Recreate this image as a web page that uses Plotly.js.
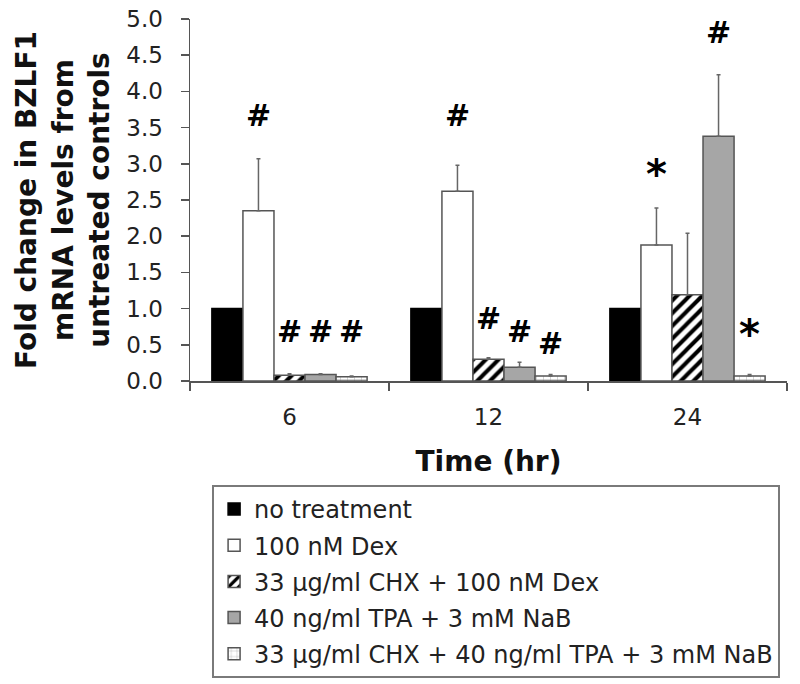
<!DOCTYPE html>
<html>
<head>
<meta charset="utf-8">
<script src="https://cdn.plot.ly/plotly-3.0.1.min.js"></script>
<style>html,body{margin:0;padding:0;background:#fff;}#chart{width:800px;height:684px;}</style>
</head>
<body>
<div id="chart"></div>
<script>
// ---- data ----
var categories = ['6', '12', '24'];
var seriesNames = [
  'no treatment',
  '100 nM Dex',
  '33 \u00b5g/ml CHX + 100 nM Dex',
  '40 ng/ml TPA + 3 mM NaB',
  '33 \u00b5g/ml CHX + 40 ng/ml TPA + 3 mM NaB'
];
var noTreatment = [1.0, 1.0, 1.0];
var dex = [2.35, 2.62, 1.88];
var chxDex = [0.08, 0.30, 1.19];
var tpaNab = [0.09, 0.19, 3.38];
var chxTpaNab = [0.06, 0.07, 0.07];

var errNoTreatment = [0, 0, 0];
var errDex = [0.72, 0.36, 0.51];
var errChxDex = [0.02, 0.02, 0.85];
var errTpaNab = [0.01, 0.07, 0.85];
var errChxTpaNab = [0.01, 0.02, 0.02];

// significance markers: [series index, category index, label, y position]
var sigSeries = [1, 2, 3, 4, 1, 2, 3, 4, 1, 3, 4];
var sigCategory = [0, 0, 0, 0, 1, 1, 1, 1, 2, 2, 2];
var sigLabels = ['#', '#', '#', '#', '#', '#', '#', '#', '*', '#', '*'];
var sigY = [3.67, 0.68, 0.68, 0.68, 3.67, 0.87, 0.68, 0.52, 2.94, 4.81, 0.73];

// ---- styling ----
var FONT = 'DejaVu Sans, Verdana, sans-serif';
var values = [noTreatment, dex, chxDex, tpaNab, chxTpaNab];
var errors = [errNoTreatment, errDex, errChxDex, errTpaNab, errChxTpaNab];
var fills = ['#000000', '#ffffff', '#ffffff', '#a6a6a6', '#ffffff'];
var patterns = [
  {shape: ''},
  {shape: ''},
  {shape: '/', fgcolor: '#000000', bgcolor: '#ffffff', size: 9, solidity: 0.45},
  {shape: ''},
  {shape: '+', fgcolor: '#9a9a9a', bgcolor: '#ffffff', size: 7, solidity: 0.12}
];
var bargap = 0.22;

var traces = values.map(function (v, i) {
  return {
    type: 'bar',
    name: seriesNames[i],
    x: categories,
    y: v,
    legendgroup: 'g' + i,
    marker: {
      color: fills[i],
      line: {color: i === 0 ? '#000000' : '#555555', width: 1.5},
      pattern: patterns[i]
    },
    error_y: {
      type: 'data', symmetric: false, array: errors[i],
      arrayminus: errors[i].map(function () { return 0; }),
      visible: i !== 0, color: '#666666', thickness: 1.5, width: 2
    },
    hoverinfo: 'skip'
  };
});

var nSeries = values.length;
var barW = (1 - bargap) / nSeries;
var annotations = sigLabels.map(function (lab, k) {
  var xpos = sigCategory[k] + (sigSeries[k] - (nSeries - 1) / 2) * barW;
  return {
    x: xpos, y: sigY[k], xref: 'x', yref: 'y',
    text: lab, showarrow: false,
    font: {family: FONT, size: lab === '*' ? 40 : 30, color: '#000', weight: 'bold'},
    yshift: lab === '*' ? -6 : 0
  };
});

var layout = {
  width: 800, height: 684,
  margin: {l: 190, r: 13, t: 19, b: 303, autoexpand: false},
  paper_bgcolor: '#ffffff', plot_bgcolor: '#ffffff',
  barmode: 'group', bargap: bargap, bargroupgap: 0,
  font: {family: FONT, color: '#222'},
  showlegend: true,
  legend: {
    x: 0.037, y: -0.287, xanchor: 'left', yanchor: 'top',
    bordercolor: '#7a7a7a', borderwidth: 2, bgcolor: '#ffffff',
    font: {family: FONT, size: 24, color: '#222'},
    traceorder: 'grouped', tracegroupgap: 2, itemwidth: 30
  },
  xaxis: {
    type: 'category', automargin: false,
    tickson: 'boundaries', ticks: 'outside', ticklen: 8, tickcolor: '#555', tickwidth: 1.5,
    showline: true, linecolor: '#555', linewidth: 1.5,
    showgrid: false, zeroline: false,
    tickfont: {family: FONT, size: 23, color: '#222'},
    ticklabelstandoff: 15,
    title: {text: 'Time (hr)', font: {family: FONT, size: 28, color: '#111', weight: 'bold'}, standoff: 22}
  },
  yaxis: {
    range: [0, 5], dtick: 0.5, tick0: 0, tickformat: '.1f', automargin: false,
    ticks: 'outside', ticklen: 8, tickcolor: '#555', tickwidth: 1.5,
    showline: true, linecolor: '#555', linewidth: 1.5,
    showgrid: false, zeroline: false,
    tickfont: {family: FONT, size: 23, color: '#222'},
    ticklabelstandoff: 13,
    title: {text: 'Fold change in BZLF1<br>mRNA levels from<br>untreated controls',
            font: {family: FONT, size: 28, color: '#111', weight: 'bold'}, standoff: 8}
  },
  annotations: annotations
};

Plotly.newPlot('chart', traces, layout, {displayModeBar: false, staticPlot: true});
</script>
</body>
</html>
